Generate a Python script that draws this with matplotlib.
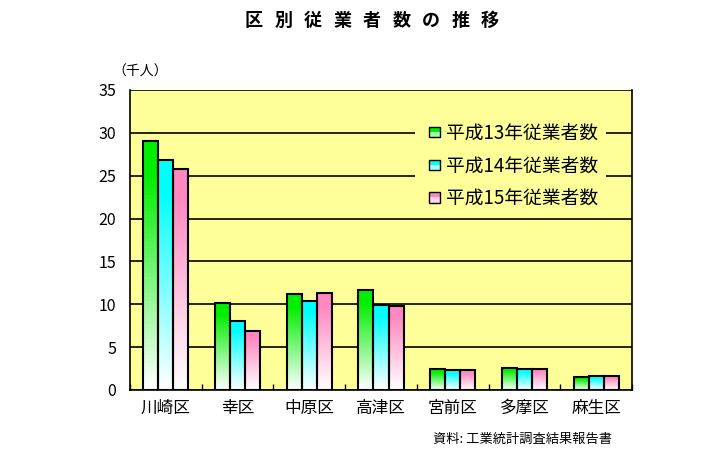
import matplotlib
matplotlib.use("Agg")
import matplotlib.pyplot as plt
import numpy as np
from matplotlib.colors import to_rgb
from matplotlib.patches import Rectangle
from matplotlib.legend_handler import HandlerBase

plt.rcParams['font.family'] = ['Noto Sans CJK JP', 'DejaVu Sans']

wards = ["川崎区", "幸区", "中原区", "高津区", "宮前区", "多摩区", "麻生区"]
series_names = ["平成13年従業者数", "平成14年従業者数", "平成15年従業者数"]
h13 = [29.0, 10.2, 11.2, 11.7, 2.4, 2.6, 1.5]
h14 = [26.8, 8.0, 10.4, 9.9, 2.3, 2.4, 1.6]
h15 = [25.8, 6.9, 11.3, 9.8, 2.3, 2.5, 1.6]
yticks = [0, 5, 10, 15, 20, 25, 30, 35]
title_chars = "区別従業者数の推移"

colors = ["#00ee00", "#00ffff", "#ff88c0"]


def gradient(color, n=64):
    c = np.array(to_rgb(color))
    t = np.linspace(0, 1, n)[:, None]
    # row 0 = bottom (white), last row = top (full colour)
    t = np.clip(t * 1.15, 0, 1)
    rgb = (1 - t) * np.ones(3) + t * c
    return rgb[:, None, :]


class GradHandler(HandlerBase):
    def __init__(self, color):
        super().__init__()
        self.color = color

    def create_artists(self, legend, orig_handle, xdescent, ydescent,
                       width, height, fontsize, trans):
        s = 7.5
        x0 = width - s - 1
        y0 = -ydescent + (height - s) / 2
        rect = Rectangle((x0, y0), s, s, facecolor="none",
                         edgecolor="black", lw=1, transform=trans)
        top = Rectangle((x0, y0 + s / 2), s, s / 2, facecolor=self.color,
                        edgecolor="none", transform=trans)
        bot = Rectangle((x0, y0), s, s / 2,
                        facecolor=tuple(0.35 * np.array(to_rgb(self.color)) + 0.65),
                        edgecolor="none", transform=trans)
        return [bot, top, rect]


fig = plt.figure(figsize=(7.21, 4.51), dpi=100)
fig.patch.set_facecolor("white")
ax = fig.add_axes([0.1803, 0.1353, 0.6963, 0.6652])
ax.set_facecolor("#ffff99")

x = np.arange(len(wards))
w = 0.21
offsets = [-w, 0, w]
handles = []
for vals, off, col in zip([h13, h14, h15], offsets, colors):
    bars = ax.bar(x + off, vals, width=w, facecolor="none",
                  edgecolor="black", linewidth=1.5, zorder=3)
    handles.append(bars)
    for b in bars:
        bx, by = b.get_x(), b.get_y()
        bw, bh = b.get_width(), b.get_height()
        im = ax.imshow(gradient(col), extent=[bx, bx + bw, by, by + bh],
                       origin="lower", aspect="auto", zorder=2)
        im.set_clip_path(b)

ax.set_xlim(-0.5, len(wards) - 0.5)
ax.set_ylim(0, 35)
ax.set_yticks(yticks)
ax.yaxis.grid(True, color="black", linewidth=1.2, zorder=1)
ax.set_axisbelow(True)

ax.set_xticks(x)
ax.set_xticklabels(wards, fontsize=12)
ax.set_xticks(np.arange(len(wards) + 1) - 0.5, minor=True)
ax.tick_params(axis="x", which="major", length=0, pad=7)
ax.tick_params(axis="x", which="minor", direction="in", length=4, width=1)
ax.tick_params(axis="y", direction="in", length=0, labelsize=11.5, pad=10)

ax.spines["top"].set_visible(False)
for s in ["left", "bottom", "right"]:
    ax.spines[s].set_linewidth(1.2)
    ax.spines[s].set_color("black")

leg = ax.legend(handles, series_names,
                handler_map={h: GradHandler(c) for h, c in zip(handles, colors)},
                loc="upper left", bbox_to_anchor=(0.549, 0.947),
                frameon=True, fontsize=13.5, labelspacing=0.62,
                handlelength=1.0, handletextpad=0.25, borderpad=0.4)
leg.get_frame().set_facecolor("#ffff99")
leg.get_frame().set_edgecolor("none")
leg.get_frame().set_alpha(1)
leg.set_zorder(5)

for i, ch in enumerate(title_chars):
    fig.text((254 + i * 29.5) / 721, 0.955, ch, ha="center", va="center",
             fontsize=13, fontweight="bold")
fig.text(0.195, 0.84, "（千人）", ha="center", va="center", fontsize=10)
fig.text(0.725, 0.025, "資料: 工業統計調査結果報告書", ha="center", va="center",
         fontsize=9.5)

fig.savefig("out.png", dpi=100, facecolor="white")
